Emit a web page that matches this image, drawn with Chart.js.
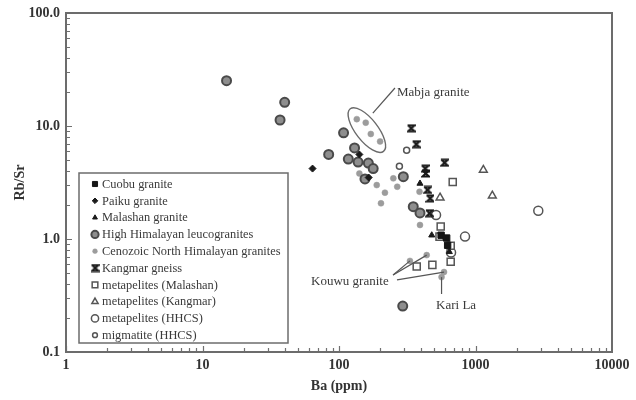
<!DOCTYPE html>
<html>
<head>
<meta charset="utf-8">
<script src="https://cdn.jsdelivr.net/npm/chart.js@4.4.1/dist/chart.umd.min.js"></script>
<style>
  html, body { margin: 0; padding: 0; background: #fff; }
</style>
</head>
<body>
<canvas id="grafico" width="636" height="400"></canvas>
<script>
// ticks
const xTicks = [1, 10, 100, 1000, 10000];
const xTickLabels = ["1", "10", "100", "1000", "10000"];
const yTicks = [0.1, 1, 10, 100];
const yTickLabels = ["0.1", "1.0", "10.0", "100.0"];

// series (Ba ppm / Rb/Sr)
const cuobuBa = [560, 615, 625];
const cuobuRbSr = [1.08, 1.02, 0.88];

const paikuBa = [64, 141, 165];
const paikuRbSr = [4.2, 5.6, 3.5];

const malashanBa = [392, 478, 643];
const malashanRbSr = [3.1, 1.08, 0.77];

const hhlBa = [15, 40, 37, 108, 84, 130, 117, 138, 164, 178, 155, 296, 350, 392, 293];
const hhlRbSr = [25.2, 16.2, 11.3, 8.7, 5.6, 6.4, 5.1, 4.8, 4.7, 4.2, 3.4, 3.56, 1.93, 1.7, 0.255];

const cenozoicBa = [135, 157, 171, 200, 141, 189, 217, 203, 250, 267, 392, 389, 331, 439, 588, 564];
const cenozoicRbSr = [11.5, 10.7, 8.5, 7.3, 3.8, 3.0, 2.57, 2.07, 3.44, 2.9, 1.33, 2.62, 0.64, 0.72, 0.51, 0.46];

const kangmarBa = [337, 367, 591, 427, 430, 444, 464, 459];
const kangmarRbSr = [9.55, 6.9, 4.73, 4.2, 3.8, 2.72, 2.29, 1.69];

const metMalashanBa = [681, 556, 545, 658, 658, 371, 483];
const metMalashanRbSr = [3.2, 1.29, 1.05, 0.87, 0.63, 0.57, 0.59];

const metKangmarBa = [1141, 1328, 550];
const metKangmarRbSr = [4.08, 2.42, 2.32];

const metHhcsBa = [2884, 838, 662, 514];
const metHhcsRbSr = [1.78, 1.05, 0.76, 1.63];

const migmatiteBa = [313, 277];
const migmatiteRbSr = [6.1, 4.4];

function pts(xs, ys) {
  return xs.map((v, i) => ({ x: v, y: ys[i] }));
}

// simbolo do Kangmar gneiss (ampulheta)
function hourglass(size) {
  const c = document.createElement("canvas");
  c.width = size;
  c.height = size;
  const g = c.getContext("2d");
  g.strokeStyle = "#1a1a1a";
  g.lineWidth = 2;
  g.beginPath();
  g.moveTo(1, 1.5);
  g.lineTo(size - 1, 1.5);
  g.lineTo(1.5, size - 1.5);
  g.lineTo(size - 1, size - 1.5);
  g.lineTo(1.5, 1.5);
  g.stroke();
  return c;
}

const serif = "'Liberation Serif', 'DejaVu Serif', serif";

const datasets = [
  { label: "Cuobu granite", data: pts(cuobuBa, cuobuRbSr), pointStyle: "rect", pointRadius: 4.5,
    backgroundColor: "#151515", borderColor: "#151515", borderWidth: 1 },
  { label: "Paiku granite", data: pts(paikuBa, paikuRbSr), pointStyle: "rectRot", pointRadius: 3.5,
    backgroundColor: "#1a1a1a", borderColor: "#1a1a1a", borderWidth: 1 },
  { label: "Malashan granite", data: pts(malashanBa, malashanRbSr), pointStyle: "triangle", pointRadius: 3.5,
    backgroundColor: "#1a1a1a", borderColor: "#1a1a1a", borderWidth: 1 },
  { label: "High Himalayan leucogranites", data: pts(hhlBa, hhlRbSr), pointStyle: "circle", pointRadius: 4.5,
    backgroundColor: "#8e8e8e", borderColor: "#4a4a4a", borderWidth: 2 },
  { label: "Cenozoic North Himalayan granites", data: pts(cenozoicBa, cenozoicRbSr), pointStyle: "circle", pointRadius: 3,
    backgroundColor: "#9c9c9c", borderColor: "#9c9c9c", borderWidth: 0.5 },
  { label: "Kangmar gneiss", data: pts(kangmarBa, kangmarRbSr), pointStyle: hourglass(9), pointRadius: 4.5,
    backgroundColor: "#1a1a1a", borderColor: "#1a1a1a", borderWidth: 1 },
  { label: "metapelites (Malashan)", data: pts(metMalashanBa, metMalashanRbSr), pointStyle: "rect", pointRadius: 5,
    backgroundColor: "#ffffff", borderColor: "#555555", borderWidth: 1.5 },
  { label: "metapelites (Kangmar)", data: pts(metKangmarBa, metKangmarRbSr), pointStyle: "triangle", pointRadius: 4.5,
    backgroundColor: "#ffffff", borderColor: "#555555", borderWidth: 1.5 },
  { label: "metapelites (HHCS)", data: pts(metHhcsBa, metHhcsRbSr), pointStyle: "circle", pointRadius: 4.5,
    backgroundColor: "#ffffff", borderColor: "#555555", borderWidth: 1.5 },
  { label: "migmatite (HHCS)", data: pts(migmatiteBa, migmatiteRbSr), pointStyle: "circle", pointRadius: 3,
    backgroundColor: "#ffffff", borderColor: "#555555", borderWidth: 1.5 },
];

// moldura, ticks internos, legenda e anotacoes
const decor = {
  id: "decor",
  afterDraw(chart) {
    const { ctx, chartArea: a, scales: { x, y } } = chart;
    ctx.save();

    // ticks menores para dentro
    ctx.strokeStyle = "#707070";
    ctx.lineWidth = 1.2;
    ctx.beginPath();
    for (let d = 1; d < 10000; d *= 10) {
      for (let k = 1; k < 10; k++) {
        const px = Math.round(x.getPixelForValue(d * k)) + 0.5;
        const len = k === 1 ? 6 : 4;
        ctx.moveTo(px, a.bottom);
        ctx.lineTo(px, a.bottom - len);
      }
    }
    for (let d = 0.1; d < 100; d *= 10) {
      for (let k = 1; k < 10; k++) {
        const py = Math.round(y.getPixelForValue(d * k)) + 0.5;
        const len = k === 1 ? 6 : 4;
        ctx.moveTo(a.left, py);
        ctx.lineTo(a.left + len, py);
      }
    }
    ctx.stroke();

    // moldura
    ctx.strokeStyle = "#6c6c6c";
    ctx.lineWidth = 2;
    ctx.strokeRect(a.left, a.top, a.right - a.left, a.bottom - a.top);

    // caixa da legenda
    const bx = a.left + 13, by = a.top + 160, bw = 209, bh = 170;
    ctx.fillStyle = "#fff";
    ctx.fillRect(bx, by, bw, bh);
    ctx.strokeStyle = "#6c6c6c";
    ctx.lineWidth = 1.5;
    ctx.strokeRect(bx, by, bw, bh);
    ctx.font = "12.4px " + serif;
    ctx.textBaseline = "middle";
    chart.data.datasets.forEach((ds, i) => {
      const cy = by + 11 + i * 16.8;
      ctx.fillStyle = ds.backgroundColor;
      ctx.strokeStyle = ds.borderColor;
      ctx.lineWidth = ds.borderWidth;
      Chart.helpers.drawPoint(ctx, {
        pointStyle: ds.pointStyle,
        radius: ds.pointRadius * 0.8,
        rotation: 0,
        borderWidth: ds.borderWidth,
      }, bx + 16, cy);
      ctx.fillStyle = "#3a3a3a";
      ctx.fillText(ds.label, bx + 23, cy + 0.5);
    });

    // Mabja granite
    const P = (bv, rv) => [x.getPixelForValue(bv), y.getPixelForValue(rv)];
    ctx.strokeStyle = "#6a6a6a";
    ctx.lineWidth = 1.4;
    const [ex, ey] = P(160, 9.2);
    ctx.beginPath();
    ctx.ellipse(ex, ey, 27, 11, 52 * Math.PI / 180, 0, Math.PI * 2);
    ctx.stroke();

    ctx.strokeStyle = "#555";
    ctx.lineWidth = 1.2;
    const line = (b1, r1, b2, r2) => {
      const [x1, y1] = P(b1, r1);
      const [x2, y2] = P(b2, r2);
      ctx.beginPath();
      ctx.moveTo(x1, y1);
      ctx.lineTo(x2, y2);
      ctx.stroke();
    };
    line(177, 13.0, 257, 21.7);
    line(249, 0.48, 331, 0.64);
    line(249, 0.48, 439, 0.72);
    line(266, 0.434, 588, 0.51);
    line(564, 0.46, 564, 0.326);

    ctx.fillStyle = "#3a3a3a";
    ctx.font = "13px " + serif;
    ctx.textAlign = "left";
    let [tx, ty] = P(266, 19.6);
    ctx.fillText("Mabja granite", tx, ty);
    [tx, ty] = P(62.4, 0.416);
    ctx.fillText("Kouwu granite", tx, ty);
    [tx, ty] = P(514, 0.255);
    ctx.fillText("Kari La", tx, ty);

    ctx.restore();
  },
};

new Chart(document.getElementById("grafico"), {
  type: "scatter",
  data: { datasets: datasets },
  options: {
    responsive: false,
    animation: false,
    events: [],
    layout: { padding: { left: 0, right: 24, top: 13, bottom: 0 } },
    plugins: { legend: { display: false }, tooltip: { enabled: false } },
    scales: {
      x: {
        type: "logarithmic",
        min: 1,
        max: 10000,
        afterBuildTicks: (s) => { s.ticks = xTicks.map((v) => ({ value: v })); },
        afterFit: (s) => { s.height = 48; s.paddingLeft = 0; s.paddingRight = 0; },
        grid: { display: false, drawTicks: false },
        border: { display: false },
        ticks: {
          autoSkip: false,
          maxRotation: 0,
          padding: 5,
          color: "#333",
          font: { family: serif, size: 14, weight: "bold" },
          callback: (v, i) => xTickLabels[i],
        },
        title: {
          display: true,
          text: "Ba (ppm)",
          color: "#333",
          font: { family: serif, size: 14, weight: "bold" },
          padding: { top: 0, bottom: 5 },
        },
      },
      y: {
        type: "logarithmic",
        min: 0.1,
        max: 100,
        afterBuildTicks: (s) => { s.ticks = yTicks.map((v) => ({ value: v })); },
        afterFit: (s) => { s.width = 66; s.paddingTop = 0; s.paddingBottom = 0; },
        grid: { display: false, drawTicks: false },
        border: { display: false },
        ticks: {
          autoSkip: false,
          padding: 6,
          color: "#333",
          font: { family: serif, size: 14, weight: "bold" },
          callback: (v, i) => yTickLabels[i],
        },
        title: {
          display: true,
          text: "Rb/Sr",
          color: "#333",
          font: { family: serif, size: 14, weight: "bold" },
          padding: { top: 12, bottom: 0 },
        },
      },
    },
  },
  plugins: [decor],
});
</script>
</body>
</html>
